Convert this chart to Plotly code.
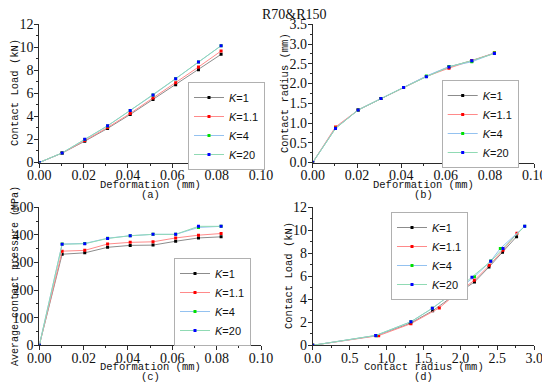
import plotly.graph_objects as go

# ---------------- data ----------------
deformation = [0, 0.0103, 0.0205, 0.0308, 0.041, 0.0513, 0.0615, 0.0718, 0.082]
series_names = ["<i>K</i>=1", "<i>K</i>=1.1", "<i>K</i>=4", "<i>K</i>=20"]

# (a) contact load (kN) vs deformation
load_k1 = [0, 0.82, 1.85, 2.96, 4.17, 5.48, 6.75, 8.06, 9.39]
load_k11 = [0, 0.82, 1.90, 3.04, 4.26, 5.60, 6.93, 8.29, 9.68]
load_k4 = [0, 0.83, 2.00, 3.18, 4.52, 5.86, 7.27, 8.72, 10.14]
load_k20 = [0, 0.83, 2.01, 3.19, 4.52, 5.87, 7.28, 8.73, 10.14]

# (b) contact radius (mm) vs deformation
radius_k1 = [0, 0.87, 1.33, 1.62, 1.90, 2.18, 2.42, 2.58, 2.77]
radius_k11 = [0, 0.90, 1.33, 1.62, 1.90, 2.18, 2.39, 2.58, 2.77]
radius_k4 = [0, 0.87, 1.33, 1.62, 1.90, 2.19, 2.43, 2.55, 2.77]
radius_k20 = [0, 0.86, 1.33, 1.62, 1.90, 2.17, 2.42, 2.58, 2.76]

# (c) average contact pressure (MPa) vs deformation
pressure_k1 = [0, 330, 335, 355, 362, 363, 377, 389, 393]
pressure_k11 = [0, 341, 344, 367, 373, 375, 389, 399, 405]
pressure_k4 = [0, 367, 369, 388, 397, 402, 402, 427, 431]
pressure_k20 = [0, 366, 368, 387, 397, 402, 402, 431, 431]

# (d) contact load (kN) vs contact radius (mm)
d_radius_k1 = [0, 0.857, 1.317, 1.624, 1.894, 2.19, 2.386, 2.57, 2.76]
d_load_k1 = [0, 0.84, 1.90, 3.00, 4.25, 5.50, 6.80, 8.10, 9.45]
d_radius_k11 = [0, 0.893, 1.33, 1.714, 1.908, 2.188, 2.39, 2.576, 2.765]
d_load_k11 = [0, 0.84, 1.88, 3.25, 4.30, 5.65, 6.95, 8.27, 9.75]
d_radius_k4 = [0, 0.86, 1.33, 1.62, 1.894, 2.19, 2.41, 2.54, 2.87]
d_load_k4 = [0, 0.86, 2.05, 3.22, 4.53, 5.95, 7.33, 8.42, 10.35]
d_radius_k20 = [0, 0.853, 1.33, 1.62, 1.894, 2.156, 2.41, 2.576, 2.87]
d_load_k20 = [0, 0.86, 2.05, 3.22, 4.53, 5.92, 7.30, 8.42, 10.35]

# ---------------- styles ----------------
line_colors = ["#8c8c8c", "#ff8a8a", "#94c2f0", "#90dab4"]
marker_colors = ["#000000", "#ff0000", "#00e000", "#0000ff"]

# The page body adds an 8px margin, so the figure is sized to fill the window
OFF = 8
W, H = 550 - OFF, 386 - OFF
MONO = "Liberation Mono"
SERIF = "Liberation Serif"
SANS = "Liberation Sans"

fig = go.Figure()

panels = [
    ("x", "y", "legend", [deformation] * 4, [load_k1, load_k11, load_k4, load_k20]),
    ("x2", "y2", "legend2", [deformation] * 4, [radius_k1, radius_k11, radius_k4, radius_k20]),
    ("x3", "y3", "legend3", [deformation] * 4, [pressure_k1, pressure_k11, pressure_k4, pressure_k20]),
    ("x4", "y4", "legend4", [d_radius_k1, d_radius_k11, d_radius_k4, d_radius_k20],
     [d_load_k1, d_load_k11, d_load_k4, d_load_k20]),
]

for xa, ya, lg, xs, ys in panels:
    for i in range(4):
        fig.add_trace(go.Scatter(
            x=xs[i], y=ys[i], mode="lines+markers", name=series_names[i],
            xaxis=xa, yaxis=ya, legend=lg,
            line=dict(color=line_colors[i], width=1),
            marker=dict(color=marker_colors[i], size=3, symbol="square"),
        ))

# helpers: convert window pixel positions to paper fractions
def fx(p):
    return (p - OFF) / W

def fy(p):
    return 1 - (p - OFF) / H

dom_xl = [fx(39.3), fx(261)]
dom_xr = [fx(312.7), fx(534.3)]
dom_yt = [fy(162.5), fy(24.3)]
dom_yb = [fy(345.3), fy(207.3)]

AX = "#2a2a2a"
TICKFONT = dict(family=SERIF, size=14, color="#111111")

def main_axis(domain, anchor, rng, dtick, fmt, standoff):
    return dict(
        domain=domain, anchor=anchor, range=rng,
        showline=True, linecolor=AX, linewidth=1, showgrid=False, zeroline=False,
        ticks="outside", ticklen=4, tickwidth=1, tickcolor=AX, tickfont=TICKFONT,
        ticklabelstandoff=standoff,
        tickmode="linear", tick0=0, dtick=dtick, tickformat=fmt,
        minor=dict(ticks="outside", ticklen=2, tickcolor=AX, dtick=dtick / 2, tick0=0),
    )

def mirror_axis(over, anchor, side, rng, dtick):
    return dict(overlaying=over, anchor=anchor, side=side, range=rng, showline=True,
                linecolor="#555555", linewidth=1, showgrid=False, zeroline=False,
                ticks="inside", ticklen=3, tickcolor="#555555", showticklabels=False,
                tickmode="linear", tick0=0, dtick=dtick,
                minor=dict(ticks="inside", ticklen=2, tickcolor="#555555", dtick=dtick / 2, tick0=0))

legend_common = dict(
    bgcolor="white", bordercolor="#b0b0b0", borderwidth=1,
    font=dict(family=SANS, size=11, color="#111111"),
    xanchor="left", yanchor="top", itemwidth=30, tracegroupgap=0,
)

def legend_at(x, y):
    d = dict(legend_common)
    d.update(x=fx(x), y=fy(y))
    return d

fig.update_layout(
    width=W, height=H, margin=dict(l=0, r=0, t=0, b=0, autoexpand=False),
    paper_bgcolor="white", plot_bgcolor="white",
    xaxis=main_axis(dom_xl, "y", [0, 0.1], 0.02, ".2f", -4),
    yaxis=main_axis(dom_yt, "x", [0, 12], 2, "d", -2),
    xaxis2=main_axis(dom_xr, "y2", [0, 0.1], 0.02, ".2f", -4),
    yaxis2=main_axis(dom_yt, "x2", [0, 3.5], 0.5, ".1f", -2),
    xaxis3=main_axis(dom_xl, "y3", [0, 0.1], 0.02, ".2f", -4),
    yaxis3=main_axis(dom_yb, "x3", [0, 500], 100, "d", -2),
    xaxis4=main_axis(dom_xr, "y4", [0, 3.0], 0.5, ".1f", -4),
    yaxis4=main_axis(dom_yb, "x4", [0, 12], 2, "d", -2),
    xaxis5=mirror_axis("x", "y", "top", [0, 0.1], 0.02),
    yaxis5=mirror_axis("y", "x", "right", [0, 12], 2),
    xaxis6=mirror_axis("x2", "y2", "top", [0, 0.1], 0.02),
    yaxis6=mirror_axis("y2", "x2", "right", [0, 3.5], 0.5),
    xaxis7=mirror_axis("x3", "y3", "top", [0, 0.1], 0.02),
    yaxis7=mirror_axis("y3", "x3", "right", [0, 500], 100),
    xaxis8=mirror_axis("x4", "y4", "top", [0, 3.0], 0.5),
    yaxis8=mirror_axis("y4", "x4", "right", [0, 12], 2),
    legend=legend_at(188, 82),
    legend2=legend_at(441.7, 80),
    legend3=legend_at(174, 258),
    legend4=legend_at(391, 212),
    showlegend=True,
)

def ann(text, x, y, size=10.5, family=MONO, angle=0):
    fig.add_annotation(text=text, x=fx(x), y=fy(y), xref="paper", yref="paper",
                       showarrow=False, textangle=angle, xanchor="center", yanchor="middle",
                       font=dict(family=family, size=size, color="#111111"))

ann("R70&R150", 294, 15, size=14, family=SERIF)
# (a)
ann("Deformation (mm)", 150, 185)
ann("(a)", 150, 195)
ann("Contact Load (kN)", 15, 93, angle=-90)
# (b)
ann("Deformation (mm)", 423.5, 185)
ann("(b)", 423.5, 195)
ann("Contact radius (mm)", 285, 93, angle=-90)
# (c)
ann("Deformation (mm)", 150, 367)
ann("(c)", 150, 377)
ann("Average contact pressure (MPa)", 15, 276, size=10, angle=-90)
# (d)
ann("Contact radius (mm)", 423.5, 367)
ann("(d)", 423.5, 377)
ann("Contact Load (kN)", 289, 276, angle=-90)

fig.write_html("out.html")
